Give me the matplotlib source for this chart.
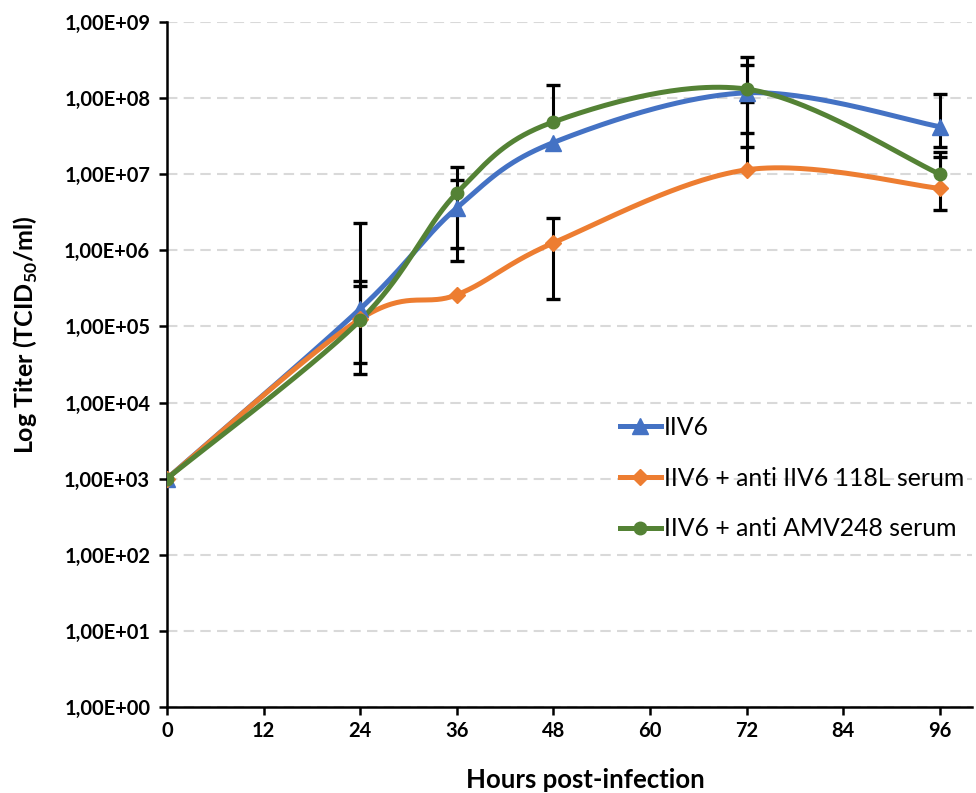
import numpy as np
import matplotlib
matplotlib.use("Agg")
import matplotlib.pyplot as plt
from matplotlib.lines import Line2D
from matplotlib.ticker import FixedLocator, NullLocator

plt.rcParams["mathtext.fontset"] = "custom"
plt.rcParams["mathtext.bf"] = "Lato:bold"
plt.rcParams["mathtext.rm"] = "Lato"

# ---------------- data ----------------
hours = [0, 24, 36, 48, 72, 96]
x_ticks = [0, 12, 24, 36, 48, 60, 72, 84, 96]
y_ticks = [1e0, 1e1, 1e2, 1e3, 1e4, 1e5, 1e6, 1e7, 1e8, 1e9]
y_tick_labels = ["1,00E+00", "1,00E+01", "1,00E+02", "1,00E+03", "1,00E+04",
                 "1,00E+05", "1,00E+06", "1,00E+07", "1,00E+08", "1,00E+09"]

labels = ["IIV6", "IIV6 + anti IIV6 118L serum", "IIV6 + anti AMV248 serum"]

iiv6 = [1.0e3, 1.7e5, 3.6e6, 2.6e7, 1.17e8, 4.2e7]
iiv6_lo = [1.0e3, 3.3e4, 1.07e6, 2.6e7, 3.44e7, 2.3e7]
iiv6_hi = [1.0e3, 3.95e5, 8.4e6, 2.6e7, 2.72e8, 1.13e8]

anti118 = [1.0e3, 1.25e5, 2.6e5, 1.25e6, 1.14e7, 6.5e6]
anti118_lo = [1.0e3, 2.37e4, 2.6e5, 2.3e5, 1.14e7, 3.4e6]
anti118_hi = [1.0e3, 3.4e5, 2.6e5, 2.65e6, 8.97e7, 1.67e7]

amv = [1.0e3, 1.2e5, 5.66e6, 4.85e7, 1.31e8, 1.0e7]
amv_lo = [1.0e3, 1.2e5, 7.2e5, 4.85e7, 2.3e7, 1.0e7]
amv_hi = [1.0e3, 2.3e6, 1.24e7, 1.49e8, 3.5e8, 1.98e7]

colors = ["#4472C4", "#ED7D31", "#548235"]
markers = ["^", "D", "o"]
msizes = [11, 8, 9]

series = [(iiv6, iiv6_lo, iiv6_hi), (anti118, anti118_lo, anti118_hi), (amv, amv_lo, amv_hi)]


def smooth(xs, ys, n=60):
    """Excel-like smoothed line (Catmull-Rom Bezier) in (x, log y) space."""
    P = np.column_stack([np.asarray(xs, float), np.log10(np.asarray(ys, float))])
    out = []
    m = len(P)
    t = np.linspace(0, 1, n)[:, None]
    for i in range(m - 1):
        p0 = P[i - 1] if i > 0 else P[i]
        p1 = P[i]
        p2 = P[i + 1]
        p3 = P[i + 2] if i + 2 < m else P[i + 1]
        c1 = p1 + (p2 - p0) / 6.0
        c2 = p2 - (p3 - p1) / 6.0
        seg = ((1 - t) ** 3) * p1 + 3 * ((1 - t) ** 2) * t * c1 + 3 * (1 - t) * t ** 2 * c2 + t ** 3 * p2
        out.append(seg if i == 0 else seg[1:])
    S = np.vstack(out)
    return S[:, 0], 10 ** S[:, 1]


fig = plt.figure(figsize=(9.76, 7.93), dpi=100)
ax = fig.add_axes([0.171, 0.1084, 0.825, 0.864])

ax.set_yscale("log")
ax.set_ylim(1e0, 1e9)
ax.set_xlim(0, 100)

LW = 3.6
for (vals, lo, hi), c, mk, ms in zip(series, colors, markers, msizes):
    sx, sy = smooth(hours, vals)
    ax.plot(sx, sy, color=c, lw=LW, solid_capstyle="round", zorder=2)
    x = np.asarray(hours, float)
    v = np.asarray(vals, float)
    lo = np.asarray(lo, float)
    hi = np.asarray(hi, float)
    has = (lo < v) | (hi > v)
    ax.vlines(x[has], lo[has], hi[has], color="black", lw=2.2, zorder=3)
    up = hi > v
    dn = lo < v
    ax.plot(x[up], hi[up], linestyle="none", marker="_", ms=10, mew=2.4,
            color="black", zorder=3)
    ax.plot(x[dn], lo[dn], linestyle="none", marker="_", ms=10, mew=2.4,
            color="black", zorder=3)
    ax.plot(hours, vals, linestyle="none", marker=mk, ms=ms, color=c, zorder=4)

ax.yaxis.set_major_locator(FixedLocator(y_ticks))
ax.yaxis.set_minor_locator(NullLocator())
ax.set_yticklabels(y_tick_labels)
ax.set_xticks(x_ticks)
ax.set_xticklabels([str(t) for t in x_ticks])

ax.grid(axis="y", color="#D9D9D9", linestyle=(0, (5, 3)), lw=1.5, zorder=0)
ax.set_axisbelow(True)

for s in ["top", "right"]:
    ax.spines[s].set_visible(False)
for s in ["left", "bottom"]:
    ax.spines[s].set_linewidth(1.8)
    ax.spines[s].set_color("black")

ax.tick_params(axis="both", which="major", direction="out", length=6, width=1.8,
               colors="black", pad=6)
ax.tick_params(axis="x", pad=4)
for lab in ax.get_xticklabels() + ax.get_yticklabels():
    lab.set_fontfamily("Lato")
    lab.set_fontweight("bold")
    lab.set_fontsize(14.5)

fig.text(0.600, 0.006, "Hours post-infection", ha="center", va="baseline",
         fontsize=18.5, fontweight="bold", family="Lato")
fig.text(0.027, 0.578, r"Log Titer (TCID$_{\mathbf{50}}$/ml)", ha="center", va="center",
         rotation=90, fontsize=18, fontweight="bold", family="Lato")

handles = [Line2D([0], [0], color=c, lw=LW, marker=mk, ms=ms)
           for c, mk, ms in zip(colors, markers, msizes)]
leg = fig.legend(handles, labels, loc="upper left",
                 bbox_to_anchor=(620 / 976, 1 - 416 / 793),
                 bbox_transform=fig.transFigure,
                 frameon=False, handlelength=1.65, handletextpad=0.12,
                 labelspacing=1.12, borderpad=0, borderaxespad=0,
                 prop={"family": "Lato", "size": 17.8})

fig.savefig("out.png", dpi=100)
